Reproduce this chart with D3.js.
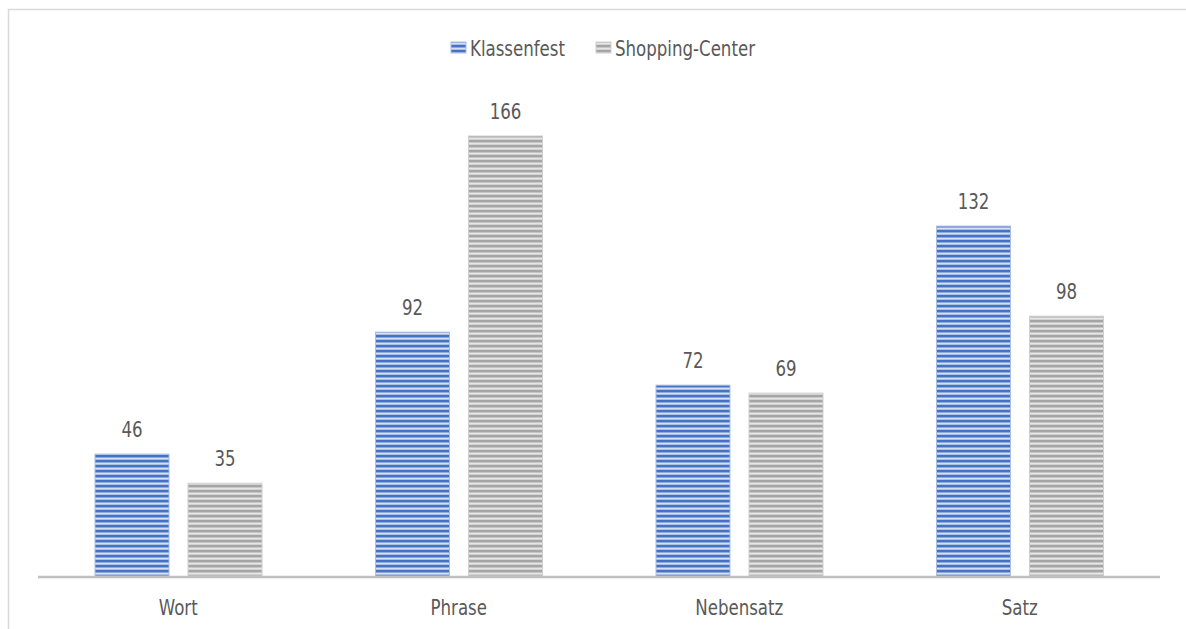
<!DOCTYPE html>
<html><head><meta charset="utf-8">
<script src="https://cdn.jsdelivr.net/npm/d3@7"></script>
<style>body{margin:0;background:#fff}svg{display:block}
text{font-family:'DejaVu Sans Condensed','DejaVu Sans',sans-serif;font-stretch:condensed}</style>
</head><body>
<script>
const categories = ["Wort", "Phrase", "Nebensatz", "Satz"];
const seriesNames = ["Klassenfest", "Shopping-Center"];
const klassenfest = [46, 92, 72, 132];
const shopping = [35, 166, 69, 98];

const W = 1186, H = 629;
const textColor = "#595959";
const SX = 0.88;
const svg = d3.select("body").append("svg").attr("width", W).attr("height", H);

const defs = svg.append("defs");
function stripe(id, dark, mid, light) {
  const p = defs.append("pattern").attr("id", id).attr("patternUnits", "userSpaceOnUse")
    .attr("width", 10).attr("height", 5);
  p.append("rect").attr("width", 10).attr("height", 5).attr("fill", light);
  p.append("rect").attr("y", 0).attr("width", 10).attr("height", 2).attr("fill", dark);
  p.append("rect").attr("y", 2).attr("width", 10).attr("height", 1).attr("fill", mid);
  p.append("rect").attr("y", 4.4).attr("width", 10).attr("height", 0.6).attr("fill", mid);
}
stripe("pBlue", "#4472c4", "#8eaadb", "#d6e0f3");
stripe("pGray", "#a5a5a5", "#c6c6c6", "#e6e6e6");
const fills = ["url(#pBlue)", "url(#pGray)"];
const edge = ["#a9bde6", "#cfcfcf"];

svg.append("path").attr("d", `M8.5,${H} V9.5 H${W}`).attr("fill", "none")
  .attr("stroke", "#d9d9d9").attr("stroke-width", 1.5);

const x0 = d3.scaleBand().domain(categories).range([38, 1160]);
const x1 = d3.scaleBand().domain(seriesNames).range([57, 224]).paddingInner(19 / 93);
const y = d3.scaleLinear().domain([0, 166]).range([576, 136]);

const data = categories.map((c, i) => ({cat: c, vals: [klassenfest[i], shopping[i]]}));

const groups = svg.append("g").selectAll("g.cat").data(data).join("g")
  .attr("transform", d => `translate(${x0(d.cat)},0)`);

groups.selectAll("rect").data(d => d.vals.map((v, j) => ({v, j}))).join("rect")
  .attr("x", d => x1(seriesNames[d.j]))
  .attr("width", x1.bandwidth())
  .attr("y", d => y(d.v))
  .attr("height", d => y(0) - y(d.v))
  .attr("fill", d => fills[d.j])
  .attr("stroke", d => edge[d.j]).attr("stroke-width", 1);

groups.selectAll("text.val").data(d => d.vals.map((v, j) => ({v, j}))).join("text")
  .attr("class", "val")
  .attr("transform", d => `translate(${x1(seriesNames[d.j]) + x1.bandwidth() / 2},${y(d.v) - 17}) scale(${SX},1)`)
  .attr("text-anchor", "middle")
  .attr("font-size", 21).attr("fill", textColor)
  .text(d => d.v);

svg.append("line").attr("x1", 38).attr("x2", 1160).attr("y1", 577).attr("y2", 577)
  .attr("stroke", "#bfbfbf").attr("stroke-width", 2.5);

const xAxis = d3.axisBottom(x0).tickSize(0).tickPadding(0);
const ax = svg.append("g").attr("transform", "translate(0,578)").call(xAxis);
ax.select(".domain").remove();
ax.selectAll("text").attr("font-family", null).attr("font-size", 21).attr("fill", textColor)
  .attr("dy", null).attr("y", null).attr("transform", `translate(0,37) scale(${SX},1)`);

const lx = [451, 596];
seriesNames.forEach((s, i) => {
  svg.append("rect").attr("x", lx[i]).attr("y", 42).attr("width", 15).attr("height", 11)
    .attr("fill", fills[i]).attr("stroke", edge[i]);
  svg.append("text").attr("transform", `translate(${lx[i] + 19},56) scale(${SX},1)`)
    .attr("font-size", 21).attr("fill", textColor).text(s);
});
</script>
</body></html>
